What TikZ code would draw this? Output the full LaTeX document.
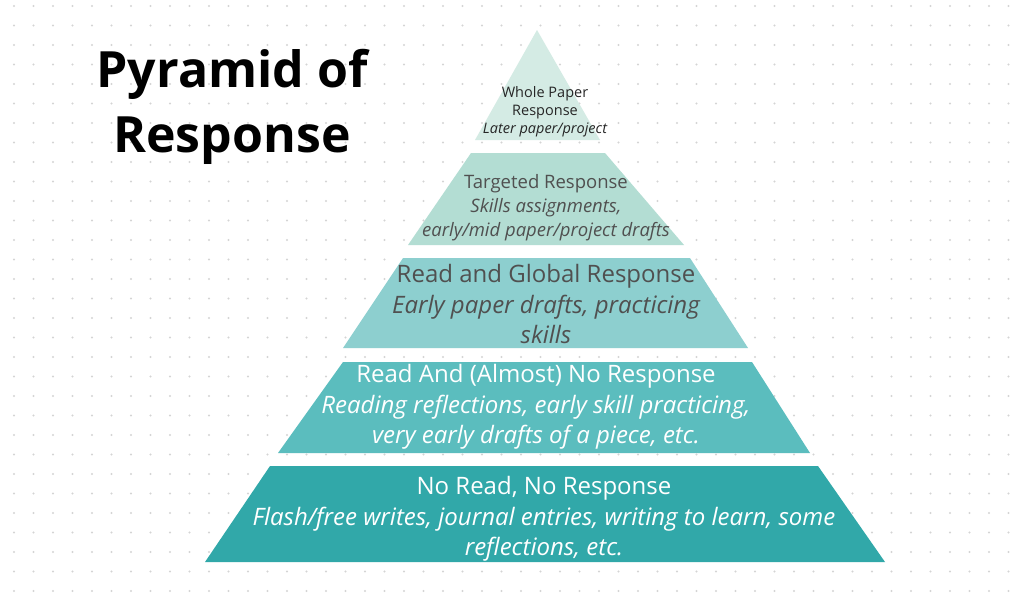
\documentclass[tikz,border=0pt]{standalone}
\usepackage{fontspec}
\setmainfont{Open Sans}
\definecolor{tierA}{HTML}{D4EBE4}
\definecolor{tierB}{HTML}{B3DDD3}
\definecolor{tierC}{HTML}{8DCFCF}
\definecolor{tierD}{HTML}{5BBDBE}
\definecolor{tierE}{HTML}{31A8A9}
\definecolor{inktext}{HTML}{505050}
\begin{document}
\begin{tikzpicture}[x=1pt,y=-1pt,
  tier/.style={draw=none},
  lbl/.style={align=center,inner sep=0pt}]
\tikzstyle{every node}+=[inner sep=0pt]
\useasboundingbox (0,0) rectangle (1024,592);
\fill[white] (0,0) rectangle (1024,592);
% dot grid
\foreach \i in {0,...,51} \foreach \j in {0,...,30}
  \fill[black!17] (14+\i*19.5,6+\j*19.5) circle (1.1);
% tiers
\fill[tierA] (537,30) -- (600,140) -- (475,140) -- cycle;
\fill[tierB] (471,153) -- (605,153) -- (684,245) -- (408,245) -- cycle;
\fill[tierC] (403,258) -- (690,258) -- (748,348) -- (343,348) -- cycle;
\fill[tierD] (343,362) -- (752,362) -- (810,453) -- (278,453) -- cycle;
\fill[tierE] (270,466) -- (818,466) -- (885,562) -- (205,562) -- cycle;
% labels
\node[lbl,text=black!85,font=\fontsize{14.5}{18}\selectfont] (whole) at (545,112)
  {Whole Paper\\Response\\\itshape Later paper/project};
\node[lbl,text=inktext,font=\fontsize{18.5}{24}\selectfont] (targeted) at (546,208)
  {Targeted Response\\\itshape Skills assignments,\\\itshape early/mid paper/project drafts};
\node[lbl,text=inktext,font=\fontsize{24}{30.5}\selectfont] (global) at (546,304)
  {Read and Global Response\\\itshape Early paper drafts, practicing\\\itshape skills};
\node[lbl,text=white,font=\fontsize{24}{30.5}\selectfont] (almost) at (536,407)
  {Read And (Almost) No Response\\\itshape Reading reflections, early skill practicing,\\\itshape very early drafts of a piece, etc.};
\node[lbl,text=white,font=\fontsize{24}{30.5}\selectfont] (noread) at (544,519)
  {No Read, No Response\\\itshape Flash/free writes, journal entries, writing to learn, some\\\itshape reflections, etc.};
% title
\node[lbl,font=\bfseries\fontsize{50}{65}\selectfont] (title) at (232,107) {Pyramid of\\Response};
\end{tikzpicture}
\end{document}
